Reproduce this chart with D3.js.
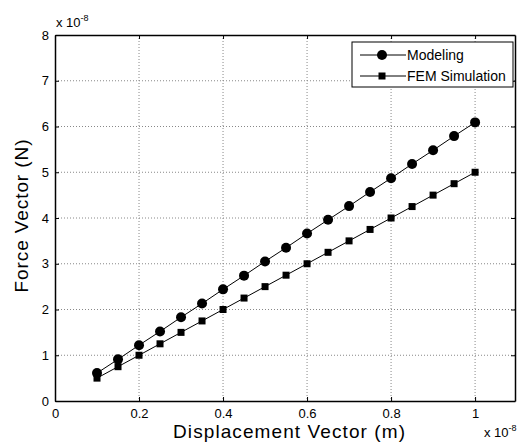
<!DOCTYPE html>
<html>
<head>
<meta charset="utf-8">
<script src="https://cdnjs.cloudflare.com/ajax/libs/d3/7.8.5/d3.min.js"></script>
<style>
  body { margin: 0; background: #fff; }
  text { font-family: "Liberation Sans", Arial, sans-serif; }
</style>
</head>
<body>
<script>
// displacement in units of 1e-8 m, force in units of 1e-8 N
var displacement = [0.1, 0.15, 0.2, 0.25, 0.3, 0.35, 0.4, 0.45, 0.5, 0.55, 0.6, 0.65, 0.7, 0.75, 0.8, 0.85, 0.9, 0.95, 1.0];
var modeling = [0.61, 0.91, 1.22, 1.52, 1.83, 2.13, 2.44, 2.74, 3.05, 3.35, 3.66, 3.96, 4.26, 4.57, 4.87, 5.18, 5.48, 5.79, 6.09];
var fem = [0.5, 0.75, 1.0, 1.25, 1.5, 1.75, 2.0, 2.25, 2.5, 2.75, 3.0, 3.25, 3.5, 3.75, 4.0, 4.25, 4.5, 4.75, 5.0];
var xTicks = [0, 0.2, 0.4, 0.6, 0.8, 1];
var yTicks = [0, 1, 2, 3, 4, 5, 6, 7, 8];
var seriesNames = ['Modeling', 'FEM Simulation'];

// plot box (named so they don't clash with window.top)
var plotL = 55, plotR = 515, plotT = 35, plotB = 401;

var svg = d3.select('body').append('svg')
  .attr('width', 517)
  .attr('height', 445);

var x = d3.scaleLinear().domain([0, 1.095]).range([plotL, plotR]);
var y = d3.scaleLinear().domain([0, 8]).range([plotB, plotT]);

// grid (dotted, MATLAB style)
svg.append('g').selectAll('line').data(xTicks.slice(1)).enter().append('line')
  .attr('x1', function (d) { return x(d); })
  .attr('x2', function (d) { return x(d); })
  .attr('y1', plotT).attr('y2', plotB)
  .attr('stroke', '#888').attr('stroke-width', 1).attr('stroke-dasharray', '1,2');
svg.append('g').selectAll('line').data(yTicks.slice(1, -1)).enter().append('line')
  .attr('y1', function (d) { return y(d); })
  .attr('y2', function (d) { return y(d); })
  .attr('x1', plotL).attr('x2', plotR)
  .attr('stroke', '#888').attr('stroke-width', 1).attr('stroke-dasharray', '1,2');

// axes: ticks pointing inwards
var xAxis = svg.append('g').attr('transform', 'translate(0,' + plotB + ')')
  .call(d3.axisBottom(x).tickValues(xTicks).tickSizeInner(-4).tickSizeOuter(0).tickPadding(8)
    .tickFormat(function (d) { return d3.format('')(d); }));
var xAxisTop = svg.append('g').attr('transform', 'translate(0,' + plotT + ')')
  .call(d3.axisTop(x).tickValues(xTicks).tickSizeInner(-4).tickSizeOuter(0).tickFormat(''));
var yAxis = svg.append('g').attr('transform', 'translate(' + plotL + ',0)')
  .call(d3.axisLeft(y).tickValues(yTicks).tickSizeInner(-4).tickSizeOuter(0).tickPadding(6));
var yAxisRight = svg.append('g').attr('transform', 'translate(' + plotR + ',0)')
  .call(d3.axisRight(y).tickValues(yTicks).tickSizeInner(-4).tickSizeOuter(0).tickFormat(''));

[xAxis, xAxisTop, yAxis, yAxisRight].forEach(function (g) {
  g.select('.domain').attr('stroke', '#000').attr('stroke-width', 1.5);
  g.selectAll('.tick line').attr('stroke', '#000');
  g.selectAll('text').attr('font-size', 13).attr('fill', '#000')
    .style('font-family', '"Liberation Sans", Arial, sans-serif');
});

// lines
var line = d3.line()
  .x(function (d, i) { return x(displacement[i]); })
  .y(function (d) { return y(d); });

svg.append('path').datum(modeling).attr('d', line)
  .attr('fill', 'none').attr('stroke', '#000').attr('stroke-width', 1);
svg.append('path').datum(fem).attr('d', line)
  .attr('fill', 'none').attr('stroke', '#000').attr('stroke-width', 1);

svg.append('g').selectAll('circle').data(modeling).enter().append('circle')
  .attr('cx', function (d, i) { return x(displacement[i]); })
  .attr('cy', function (d) { return y(d); })
  .attr('r', 5).attr('fill', '#000');

var sq = 7;
svg.append('g').selectAll('rect').data(fem).enter().append('rect')
  .attr('x', function (d, i) { return x(displacement[i]) - sq / 2; })
  .attr('y', function (d) { return y(d) - sq / 2; })
  .attr('width', sq).attr('height', sq).attr('fill', '#000');

// legend
var lg = svg.append('g');
lg.append('rect').attr('x', 352).attr('y', 42).attr('width', 161).attr('height', 45)
  .attr('fill', '#fff').attr('stroke', '#000').attr('stroke-width', 1);
seriesNames.forEach(function (name, i) {
  var ly = 55 + i * 21;
  lg.append('line').attr('x1', 360).attr('x2', 406).attr('y1', ly).attr('y2', ly)
    .attr('stroke', '#000').attr('stroke-width', 1);
  if (i === 0) {
    lg.append('circle').attr('cx', 382).attr('cy', ly).attr('r', 5).attr('fill', '#000');
  } else {
    lg.append('rect').attr('x', 382 - sq / 2).attr('y', ly - sq / 2)
      .attr('width', sq).attr('height', sq).attr('fill', '#000');
  }
  lg.append('text').attr('x', 407).attr('y', ly).attr('dy', '0.35em')
    .attr('font-size', 14).text(name);
});

// axis labels (wide MATLAB lettering, so spread to the measured length)
svg.append('text').attr('x', 289).attr('y', 438).attr('text-anchor', 'middle')
  .attr('font-size', 19).attr('textLength', 232).attr('lengthAdjust', 'spacing')
  .text('Displacement Vector (m)');
svg.append('text')
  .attr('transform', 'translate(28,216) rotate(-90)')
  .attr('text-anchor', 'middle').attr('font-size', 19)
  .attr('textLength', 153).attr('lengthAdjust', 'spacing')
  .text('Force Vector (N)');

// exponent labels
function exponent(px, py) {
  var t = svg.append('text').attr('x', px).attr('y', py).attr('font-size', 13);
  t.append('tspan').text('x 10');
  t.append('tspan').attr('dy', -6).attr('font-size', 9).text('-8');
}
exponent(56, 27);
exponent(484, 437);
</script>
</body>
</html>
